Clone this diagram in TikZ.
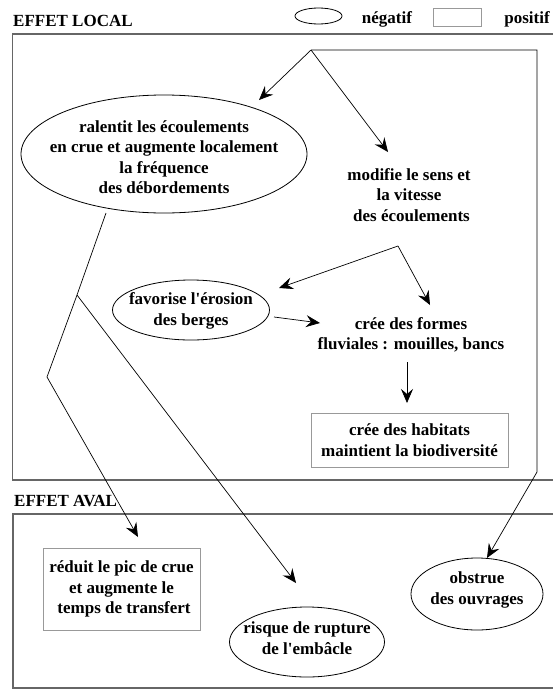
\documentclass[tikz,border=0pt]{standalone}
\usepackage{fontspec}
\setmainfont{Liberation Serif}
\usetikzlibrary{arrows.meta,shapes.geometric}
\newcommand{\apos}{\textquotesingle}
\begin{document}
\begin{tikzpicture}[x=1pt,y=-1pt,
  txt/.style={font=\fontsize{17}{20.5}\selectfont\bfseries, align=center, inner sep=0pt},
  negline/.style={draw, line width=0.8pt},
  posbox/.style={txt, draw=black!40, line width=0.8pt, rectangle},
  arr/.style={line width=0.7pt, -{Stealth[length=14pt,width=12pt,inset=5pt]}},
  framebox/.style={draw=black!60, line width=1.5pt}]
\useasboundingbox (0,0) rectangle (553,691);
% frames
\draw[framebox] (560,34) -- (12.7,34) -- (12.7,480) -- (560,480);
\draw[framebox] (560,514) -- (13,514) -- (13,688) -- (560,688);
% headings and legend
\node[txt, anchor=base west] (hl) at (13,26) {EFFET LOCAL};
\node[txt, anchor=base west] (ha) at (14,506) {EFFET AVAL};
\node[draw, ellipse, minimum width=47pt, minimum height=16pt, inner sep=0pt, line width=0.8pt] (le) at (318.5,16) {};
\node[txt, anchor=base] (ln) at (387,23) {négatif};
\node[draw=black!40, line width=0.8pt, minimum width=48pt, minimum height=18pt, inner sep=0pt] (lr) at (457,17) {};
\node[txt, anchor=base] (lp) at (527,23) {positif};
% main nodes
\node[txt] (ral) at (164,157)
  {ralentit les écoulements\\en crue et augmente localement\\la fréquence\\des débordements};
\draw[negline] (ral.center) ++(0,-3) ellipse [x radius=143pt, y radius=59pt];
\node[txt] (mod) at (409,195) {modifie le sens et\\la vitesse\\\hspace{5pt}des écoulements};
\node[txt] (fav) at (191,311) {favorise l\apos érosion\\des berges};
\draw[negline] (fav.center) ++(0,-1) ellipse [x radius=78.5pt, y radius=30pt];
\node[txt] (form) at (411,335) {crée des formes\\fluviales : mouilles, bancs};
\node[posbox, minimum width=197pt, minimum height=54pt] (hab) at (409.5,440) {crée des habitats\\maintient la biodiversité};
\node[posbox, minimum width=157pt, minimum height=82pt] (red) at (121.5,589) {réduit le pic de crue\\et augmente le\\\hspace{5pt}temps de transfert};
\node[txt] (ris) at (307,638) {risque de rupture\\de l\apos embâcle};
\draw[negline] (ris.center) ++(0,4) ellipse [x radius=77.5pt, y radius=35pt];
\node[txt] (obs) at (477,590) {obstrue\\des ouvrages};
\draw[negline] (obs.center) ++(0,4) ellipse [x radius=66pt, y radius=36pt];
% connector points
\coordinate (O) at (311,50);
\coordinate (t1) at (259,100);
\coordinate (t2) at (388,152);
\coordinate (c1) at (537,50);
\coordinate (c2) at (537,472);
\coordinate (t3) at (487,558);
\coordinate (b0) at (106,213);
\coordinate (b1) at (77,295);
\coordinate (b2) at (47,377);
\coordinate (t4) at (138,537);
\coordinate (t5) at (296,583);
\coordinate (s) at (398,246);
\coordinate (t6) at (279,288);
\coordinate (t7) at (430,305);
\coordinate (f0) at (274,317);
\coordinate (t8) at (320,323);
\coordinate (h0) at (407,362);
\coordinate (t9) at (407,403);
% connectors
\draw[arr] (O) -- (t1);
\draw[arr] (O) -- (t2);
\draw[arr] (O) -- (c1) -- (c2) -- (t3);
\draw[arr] (b0) -- (b1) -- (b2) -- (t4);
\draw[arr] (b1) -- (t5);
\draw[arr] (s) -- (t6);
\draw[arr] (s) -- (t7);
\draw[arr] (f0) -- (t8);
\draw[arr] (h0) -- (t9);
\end{tikzpicture}
\end{document}
